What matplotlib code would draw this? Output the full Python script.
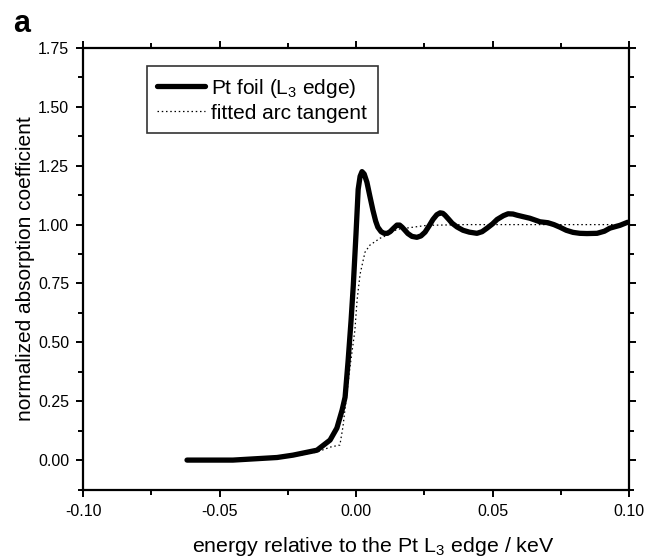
import matplotlib
matplotlib.use("Agg")
import matplotlib.pyplot as plt
from matplotlib.ticker import MultipleLocator, FormatStrFormatter

plt.rcParams['font.family'] = ['Liberation Sans', 'DejaVu Sans']
plt.rcParams['mathtext.fontset'] = 'custom'
plt.rcParams['mathtext.rm'] = 'Liberation Sans'
plt.rcParams['mathtext.default'] = 'regular'
plt.rcParams['axes.unicode_minus'] = False

# Pt foil L3-edge XANES (normalized)
pt_energy = [-0.0619, -0.0451, -0.0289, -0.0231, -0.0143, -0.0095, -0.0070, -0.0051,
             -0.0040, -0.0029, -0.0018, -0.0010, 0.0000, 0.0008, 0.0015, 0.0022,
             0.0030, 0.0040, 0.0050, 0.0062, 0.0072,
             0.0080, 0.0092, 0.0103, 0.0115, 0.0125, 0.0138, 0.0150, 0.0160, 0.0169,
             0.0180, 0.0190, 0.0205, 0.0223, 0.0238, 0.0253,
             0.0268, 0.0282, 0.0296, 0.0308, 0.0318, 0.0326, 0.0340, 0.0352, 0.0370,
             0.0392, 0.0415, 0.0443, 0.0462, 0.0480, 0.0500, 0.0517,
             0.0540, 0.0557, 0.0575, 0.0590, 0.0615, 0.0637, 0.0674, 0.0703, 0.0725,
             0.0747, 0.0770, 0.0795, 0.0820, 0.0846,
             0.0883, 0.0910, 0.0930, 0.0967, 0.0995]
pt_mu = [0.000, 0.000, 0.011, 0.021, 0.042, 0.085, 0.136, 0.212,
         0.267, 0.420, 0.594, 0.740, 0.960, 1.150, 1.205, 1.225,
         1.215, 1.180, 1.125, 1.061, 1.015,
         0.989, 0.970, 0.963, 0.963, 0.970, 0.985, 0.998, 0.998, 0.989,
         0.975, 0.962, 0.950, 0.946, 0.952, 0.968,
         0.995, 1.022, 1.042, 1.050, 1.048, 1.040, 1.022, 1.006, 0.990,
         0.976, 0.968, 0.963, 0.970, 0.985, 1.003, 1.022,
         1.038, 1.046, 1.045, 1.040, 1.033, 1.027, 1.012, 1.008, 1.000,
         0.989, 0.976, 0.967, 0.963, 0.962,
         0.963, 0.972, 0.985, 0.997, 1.010]

# fitted arc tangent step
fit_energy = [-0.0619, -0.0450, -0.0300, -0.0200, -0.0143, -0.0095, -0.0059, -0.0048,
              -0.0022, -0.0004, 0.0004, 0.0015, 0.0033, 0.0051, 0.0088, 0.0114,
              0.0150, 0.0209, 0.0260, 0.0400, 0.0600, 0.0800, 0.1000]
fit_mu = [0.000, 0.000, 0.010, 0.022, 0.034, 0.055, 0.064, 0.140,
          0.395, 0.552, 0.680, 0.790, 0.883, 0.913, 0.942, 0.955,
          0.980, 0.989, 0.997, 1.000, 1.000, 1.000, 1.000]

x_ticks = [-0.10, -0.05, 0.00, 0.05, 0.10]
y_ticks = [0.00, 0.25, 0.50, 0.75, 1.00, 1.25, 1.50, 1.75]

fig = plt.figure(figsize=(6.46, 5.58), dpi=100)
ax = fig.add_axes([83 / 646, 68 / 558, 546 / 646, 442 / 558])

ax.plot(pt_energy, pt_mu, color='black', lw=3.8, solid_capstyle='round',
        solid_joinstyle='round', label='Pt foil (L$_3$ edge)', zorder=3)
ax.plot(fit_energy, fit_mu, color='black', lw=0.9, linestyle=(0, (1.2, 2.2)),
        label='fitted arc tangent', zorder=2)

ax.set_xlim(-0.10, 0.10)
ax.set_ylim(-0.127, 1.75)
ax.set_xticks(x_ticks)
ax.set_yticks(y_ticks)
ax.xaxis.set_major_formatter(FormatStrFormatter('%.2f'))
ax.yaxis.set_major_formatter(FormatStrFormatter('%.2f'))
ax.xaxis.set_minor_locator(MultipleLocator(0.025))
ax.yaxis.set_minor_locator(MultipleLocator(0.125))

for s in ax.spines.values():
    s.set_linewidth(1.6)
ax.tick_params(which='both', direction='out', top=True, right=True,
               labeltop=False, labelright=False, width=1.4, labelsize=11.5,
               colors='black')
ax.tick_params(which='major', length=5, pad=5)
ax.tick_params(which='minor', length=3.5)

ax.set_xlabel('energy relative to the Pt L$_3$ edge / keV', fontsize=15.4)
ax.xaxis.set_label_coords(0.531, -0.102)
ax.set_ylabel('normalized absorption coefficient', fontsize=15)
ax.yaxis.set_label_coords(-0.088, 0.5)

leg = ax.legend(loc='upper left', bbox_to_anchor=(0.117, 0.959), fontsize=15,
                frameon=True, fancybox=False, shadow=False, handlelength=2.3,
                handletextpad=0.3, borderpad=0.5, labelspacing=0.2,
                borderaxespad=0)
leg.get_frame().set_edgecolor('black')
leg.get_frame().set_linewidth(1.2)

fig.text(13 / 646, 1 - 32 / 558, 'a', fontsize=22, fontweight='bold',
         ha='left', va='baseline')

fig.savefig('out.png', dpi=100)
